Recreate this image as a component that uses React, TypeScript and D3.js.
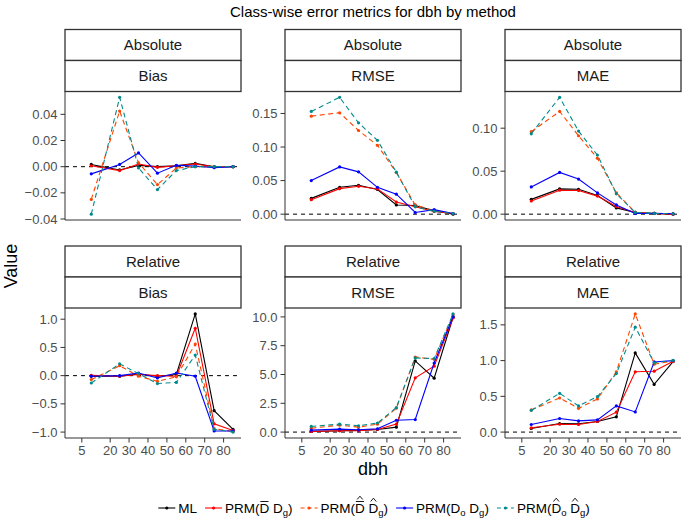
import React from "react";
import * as d3 from "d3";

// ---------- data ----------
const dbh = [10, 25, 35, 45, 55, 65, 75, 85];
const xTicks = [5, 20, 30, 40, 50, 60, 70, 80];
const methods = ["ML", "PRM(D̄ Dg)", "PRM(D̂̄ D̂g)", "PRM(Do Dg)", "PRM(D̂o D̂g)"];
const scaleTypes = ["Absolute", "Relative"];
const metrics = ["Bias", "RMSE", "MAE"];

// rows: ML, PRM(D̄ Dg), PRM(D̂̄ D̂g), PRM(Do Dg), PRM(D̂o D̂g)
const absBias = [
  [0.0017, -0.0025, 0.001, 0, 0.0007, 0.0025, 0, 0],
  [0.0007, -0.003, 0.002, -0.0005, 0.0007, 0.002, 0, 0],
  [-0.025, 0.0425, 0.003, -0.0137, -0.001, 0, 0, 0],
  [-0.0055, 0.0017, 0.0105, -0.005, 0.001, 0.0005, -0.0008, 0],
  [-0.0363, 0.053, -0.001, -0.0175, -0.003, 0, 0, 0],
];
const absRMSE = [
  [0.0235, 0.04, 0.043, 0.0367, 0.0137, 0.013, 0.005, 0],
  [0.0215, 0.038, 0.0415, 0.0376, 0.018, 0.011, 0.004, 0.001],
  [0.146, 0.151, 0.1246, 0.1026, 0.062, 0.0137, 0.005, 0.001],
  [0.05, 0.0704, 0.063, 0.04, 0.0298, 0.0025, 0.0068, 0.001],
  [0.153, 0.174, 0.136, 0.11, 0.0626, 0.011, 0.0044, 0.001],
];
const absMAE = [
  [0.0172, 0.0294, 0.029, 0.0218, 0.0073, 0.002, 0.0008, 0],
  [0.0153, 0.0279, 0.0275, 0.021, 0.0088, 0.002, 0.0008, 0],
  [0.096, 0.1195, 0.0912, 0.0649, 0.0248, 0.002, 0.001, 0.0004],
  [0.0317, 0.0485, 0.0408, 0.0248, 0.0107, 0.0008, 0.001, 0.0004],
  [0.0935, 0.1359, 0.0966, 0.0687, 0.0237, 0.002, 0.001, 0.0004],
];
const relBias = [
  [-0.01, -0.01, 0.03, -0.01, 0.02, 1.094, -0.62, -0.953],
  [0.005, -0.01, 0.02, 0, -0.01, 0.84, -0.853, -0.97],
  [-0.07, 0.176, -0.01, -0.1, -0.02, 0.56, -0.94, -0.99],
  [-0.01, 0, 0.047, -0.04, 0.047, -0.01, -0.98, -0.98],
  [-0.13, 0.21, 0.035, -0.14, -0.12, 0.365, -0.95, -1.0],
];
const relRMSE = [
  [0.05, 0.12, 0.15, 0.23, 0.43, 6.18, 4.68, 9.97],
  [0.06, 0.12, 0.12, 0.23, 0.69, 4.71, 5.72, 9.91],
  [0.34, 0.6, 0.43, 0.69, 2.07, 6.52, 6.32, 10.17],
  [0.17, 0.26, 0.2, 0.29, 1.03, 1.09, 6.0, 10.03],
  [0.49, 0.69, 0.55, 0.78, 2.13, 6.44, 6.38, 10.26],
];
const relMAE = [
  [0.05, 0.12, 0.116, 0.148, 0.213, 1.107, 0.667, 0.986],
  [0.06, 0.11, 0.106, 0.148, 0.278, 0.843, 0.852, 0.99],
  [0.31, 0.477, 0.333, 0.463, 0.843, 1.653, 0.949, 0.995],
  [0.106, 0.19, 0.157, 0.171, 0.366, 0.282, 0.981, 1.0],
  [0.305, 0.542, 0.366, 0.495, 0.819, 1.468, 0.968, 1.005],
];

const absBiasTicks = [-0.04, -0.02, 0, 0.02, 0.04];
const absRMSETicks = [0, 0.05, 0.1, 0.15];
const absMAETicks = [0, 0.05, 0.1];
const relBiasTicks = [-1, -0.5, 0, 0.5, 1];
const relRMSETicks = [0, 2.5, 5, 7.5, 10];
const relMAETicks = [0, 0.5, 1, 1.5];

// ---------- styles ----------
const FONT = "'Liberation Sans', Arial, Helvetica, sans-serif";
const color = d3
  .scaleOrdinal<string, string>()
  .domain(methods)
  .range(["#000000", "#FF0000", "#FF4500", "#0000FF", "#008B8B"]);
const dashed = (i: number) => i === 2 || i === 4;

const colLeft = [65, 285, 505];
const panelW = 176;
const stripH = 31;
const rows = [
  { top: 29.5, bottom: 220 },
  { top: 246, bottom: 438 },
];
const TICK_FS = 13;
const STRIP_FS = 15;

function Panel(props: {
  left: number;
  top: number;
  bottom: number;
  values: number[][];
  ticks: number[];
  fmt: string;
  s1: string;
  s2: string;
  showX: boolean;
}) {
  const { left, top, bottom, values, ticks, fmt, s1, s2, showX } = props;
  const plotTop = top + 2 * stripH;
  const x = d3.scaleLinear().domain([-3.9, 89.2]).range([left, left + panelW]);
  const all = values.flat().concat([0]);
  const [mn, mx] = d3.extent(all) as [number, number];
  const pad = (mx - mn) * 0.05;
  const y = d3.scaleLinear().domain([mn - pad, mx + pad]).range([bottom, plotTop]);
  const f = d3.format(fmt);
  const line = d3
    .line<number>()
    .x((_, i) => x(dbh[i]))
    .y((d) => y(d));
  return (
    <g>
      <rect x={left} y={top} width={panelW} height={stripH} fill="#fff" stroke="#333" strokeWidth={1.3} />
      <rect x={left} y={top + stripH} width={panelW} height={stripH} fill="#fff" stroke="#333" strokeWidth={1.3} />
      <text x={left + panelW / 2} y={top + stripH / 2 + 5.3} textAnchor="middle" fontSize={STRIP_FS} fill="#1a1a1a">
        {s1}
      </text>
      <text x={left + panelW / 2} y={top + stripH * 1.5 + 5.3} textAnchor="middle" fontSize={STRIP_FS} fill="#1a1a1a">
        {s2}
      </text>
      <line x1={left} x2={left + panelW} y1={y(0)} y2={y(0)} stroke="#000" strokeWidth={1} strokeDasharray="4,4" />
      {values.map((vals, i) => (
        <g key={i}>
          <path
            d={line(vals) || ""}
            fill="none"
            stroke={color(methods[i])}
            strokeWidth={1.1}
            strokeDasharray={dashed(i) ? "5,3.5" : undefined}
          />
          {vals.map((v, j) => (
            <circle key={j} cx={x(dbh[j])} cy={y(v)} r={1.6} fill={color(methods[i])} />
          ))}
        </g>
      ))}
      {/* axes */}
      <line x1={left} x2={left} y1={plotTop} y2={bottom} stroke="#333" strokeWidth={1} />
      <line x1={left} x2={left + panelW} y1={bottom} y2={bottom} stroke="#333" strokeWidth={1} />
      {ticks.map((t) => (
        <g key={t}>
          <line x1={left - 4.5} x2={left} y1={y(t)} y2={y(t)} stroke="#333" strokeWidth={1} />
          <text x={left - 7.5} y={y(t) + 4.6} textAnchor="end" fontSize={TICK_FS} fill="#4d4d4d">
            {f(t)}
          </text>
        </g>
      ))}
      {showX &&
        xTicks.map((t) => (
          <g key={t}>
            <line x1={x(t)} x2={x(t)} y1={bottom} y2={bottom + 4.5} stroke="#333" strokeWidth={1} />
            <text x={x(t)} y={bottom + 17} textAnchor="middle" fontSize={TICK_FS} fill="#4d4d4d">
              {t}
            </text>
          </g>
        ))}
    </g>
  );
}

// Arial-like advance widths (em)
const W: Record<string, number> = { P: 0.667, R: 0.722, M: 0.833, "(": 0.333, ")": 0.333, D: 0.722, L: 0.556, g: 0.556, o: 0.556, " ": 0.278 };
const tw = (s: string, fs: number) => s.split("").reduce((a, c) => a + (W[c] || 0.55) * fs, 0);

type Part = { t: string; sub?: string; bar?: boolean; hat?: boolean };
const legendParts: Part[][] = [
  [{ t: "ML" }],
  [{ t: "PRM(" }, { t: "D", bar: true }, { t: " " }, { t: "D", sub: "g" }, { t: ")" }],
  [{ t: "PRM(" }, { t: "D", bar: true, hat: true }, { t: " " }, { t: "D", hat: true, sub: "g" }, { t: ")" }],
  [{ t: "PRM(" }, { t: "D", sub: "o" }, { t: " " }, { t: "D", sub: "g" }, { t: ")" }],
  [{ t: "PRM(" }, { t: "D", hat: true, sub: "o" }, { t: " " }, { t: "D", hat: true, sub: "g" }, { t: ")" }],
];
const FS = 13.5;
const SFS = 9.5;
const partW = (p: Part) => tw(p.t, FS) + (p.sub ? tw(p.sub, SFS) : 0);
const labelW = (ps: Part[]) => ps.reduce((a, p) => a + partW(p), 0);

function LegendLabel({ x0, base, parts, fill }: { x0: number; base: number; parts: Part[]; fill: string }) {
  let cx = x0;
  const els: React.ReactNode[] = [];
  parts.forEach((p, k) => {
    const w = tw(p.t, FS);
    els.push(
      <text key={"t" + k} x={cx} y={base} fontSize={FS} fill={fill}>
        {p.t}
      </text>
    );
    if (p.bar) {
      els.push(<line key={"b" + k} x1={cx + 0.8} x2={cx + w - 0.8} y1={base - 11.3} y2={base - 11.3} stroke={fill} strokeWidth={0.9} />);
    }
    if (p.hat) {
      const hy = p.bar ? base - 13.3 : base - 11.3;
      const mid = cx + w / 2;
      els.push(
        <path key={"h" + k} d={`M${mid - 2.8},${hy} L${mid},${hy - 3.3} L${mid + 2.8},${hy}`} fill="none" stroke={fill} strokeWidth={0.9} />
      );
    }
    cx += w;
    if (p.sub) {
      els.push(
        <text key={"s" + k} x={cx} y={base + 3} fontSize={SFS} fill={fill}>
          {p.sub}
        </text>
      );
      cx += tw(p.sub, SFS);
    }
  });
  return <g>{els}</g>;
}

function Legend() {
  const keyW = 17;
  const gapKey = 3;
  const gapItem = 8;
  const widths = legendParts.map((ps) => keyW + gapKey + labelW(ps));
  const total = d3.sum(widths) + gapItem * (widths.length - 1);
  let x0 = 374 - total / 2;
  const cy = 508;
  return (
    <g>
      {legendParts.map((ps, i) => {
        const start = x0;
        x0 += widths[i] + gapItem;
        const c = color(methods[i]);
        return (
          <g key={i}>
            <line
              x1={start}
              x2={start + keyW}
              y1={cy}
              y2={cy}
              stroke={c}
              strokeWidth={1.1}
              strokeDasharray={dashed(i) ? "4,3" : undefined}
            />
            <circle cx={start + keyW / 2} cy={cy} r={1.6} fill={c} />
            <LegendLabel x0={start + keyW + gapKey} base={cy + 4.8} parts={ps} fill="#000" />
          </g>
        );
      })}
    </g>
  );
}

export default function App() {
  const panels = [
    { values: absBias, ticks: absBiasTicks, fmt: ".2f" },
    { values: absRMSE, ticks: absRMSETicks, fmt: ".2f" },
    { values: absMAE, ticks: absMAETicks, fmt: ".2f" },
    { values: relBias, ticks: relBiasTicks, fmt: ".1f" },
    { values: relRMSE, ticks: relRMSETicks, fmt: ".1f" },
    { values: relMAE, ticks: relMAETicks, fmt: ".1f" },
  ];
  return (
    <svg
      width={685}
      height={524}
      style={{ position: "absolute", left: 0, top: 0, background: "#fff" }}
      fontFamily={FONT}
    >
      <rect width={685} height={524} fill="#fff" />
      <text x={373} y={17} textAnchor="middle" fontSize={15} fill="#000">
        Class-wise error metrics for dbh by method
      </text>
      {panels.map((p, i) => {
        const r = Math.floor(i / 3);
        const c = i % 3;
        return (
          <Panel
            key={i}
            left={colLeft[c]}
            top={rows[r].top}
            bottom={rows[r].bottom}
            values={p.values}
            ticks={p.ticks}
            fmt={p.fmt}
            s1={scaleTypes[r]}
            s2={metrics[c]}
            showX={r === 1}
          />
        );
      })}
      <text x={373} y={475} textAnchor="middle" fontSize={18} fill="#000">
        dbh
      </text>
      <text transform="translate(17,266) rotate(-90)" textAnchor="middle" fontSize={18} fill="#000">
        Value
      </text>
      <Legend />
    </svg>
  );
}
